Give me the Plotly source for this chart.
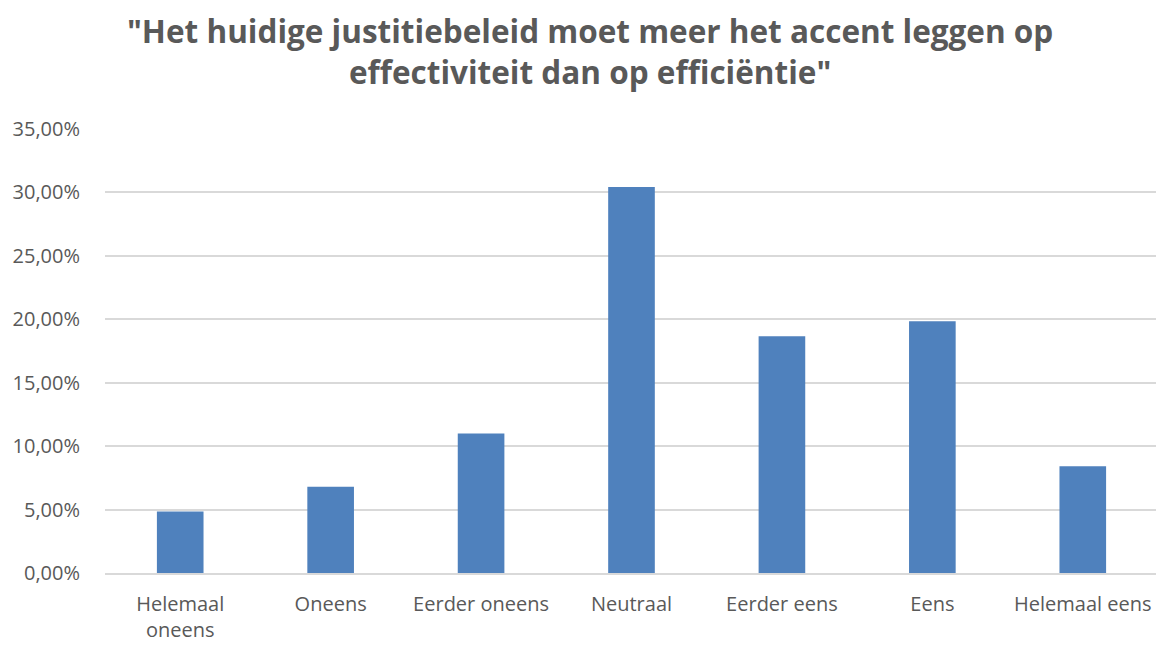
import plotly.graph_objects as go

categories = ["Helemaal<br>oneens", "Oneens", "Eerder oneens", "Neutraal", "Eerder eens", "Eens", "Helemaal eens"]
values = [0.0484, 0.0680, 0.1100, 0.3042, 0.1866, 0.1984, 0.0842]
tick_vals = [0, 0.05, 0.10, 0.15, 0.20, 0.25, 0.30, 0.35]
tick_text = ["0,00%", "5,00%", "10,00%", "15,00%", "20,00%", "25,00%", "30,00%", "35,00%"]
title_text = "<b>\"Het huidige justitiebeleid moet meer het accent leggen op<br>effectiviteit dan op efficiëntie\"</b>"

fig = go.Figure(go.Bar(x=categories, y=values, marker=dict(color="#4f81bd", line=dict(width=0))))

fig.update_layout(
    width=1164, height=645,
    paper_bgcolor="white", plot_bgcolor="white",
    margin=dict(l=97, r=14, t=121, b=80, autoexpand=False),
    bargap=0.69,
    showlegend=False,
    font=dict(family="Open Sans", color="#595959", size=16),
)
fig.add_annotation(text=title_text, xref="paper", yref="paper", x=0.4606, y=1.1757,
                   xanchor="center", yanchor="middle", showarrow=False, align="center",
                   font=dict(family="Open Sans", size=31.5, color="#595959"))
fig.update_yaxes(range=[0, 0.35], tickvals=tick_vals, ticktext=tick_text, automargin=False,
                 showgrid=True, gridcolor="#d9d9d9", gridwidth=1.5, zeroline=False,
                 showline=False, ticks="", ticklabelstandoff=24,
                 tickfont=dict(size=20, color="#595959"))
fig.update_xaxes(showline=True, linecolor="#d9d9d9", linewidth=1.5, ticks="", automargin=False,
                 ticklabelstandoff=12, tickfont=dict(size=20, color="#595959"), tickangle=0)

fig.write_html("out.html")
